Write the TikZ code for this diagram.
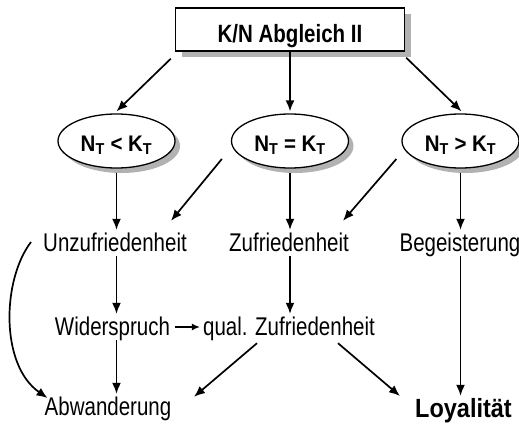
\documentclass[tikz,border=0pt]{standalone}
\usepackage{fontspec}
\setmainfont{Liberation Sans}
\usetikzlibrary{arrows.meta,shadows,calc,shapes.geometric}
\newcommand{\tallText}[1]{\scalebox{1}[1.25]{#1}}
\begin{document}
\begin{tikzpicture}[x=1pt,y=-1pt,
  every node/.style={font=\fontsize{20.5}{24}\selectfont},
  lbl/.style={anchor=base, inner xsep=0pt, inner ysep=2pt, text height=19pt, text depth=3pt},
  arr/.style={line width=1.7pt, -{Latex[length=11pt,width=9pt]}},
  topbox/.style={draw, line width=1.3pt, fill=white, minimum width=229pt, minimum height=43pt, inner sep=0pt,
    text height=27pt, text depth=0pt,
    font=\bfseries\fontsize{20.5}{24}\selectfont,
    drop shadow={shadow xshift=6pt, shadow yshift=-6pt, fill=black!30, opacity=1}},
  oval/.style={ellipse, draw, line width=1.3pt, fill=white, minimum width=117pt, minimum height=54pt, inner sep=0pt,
    text height=20pt, text depth=0pt,
    font=\bfseries\fontsize{20.5}{24}\selectfont,
    drop shadow={shadow xshift=5pt, shadow yshift=-5pt, fill=black!30, opacity=1}}
]
\useasboundingbox (0,0) rectangle (519,425);

\node[topbox] (box) at (290,29.5) {\scalebox{1}[1.22]{K/N Abgleich II}};
\node[oval] (eL) at (116.5,141) {\scalebox{1}[1.1]{N\textsubscript{T} < K\textsubscript{T}}};
\node[oval] (eM) at (290,141) {\scalebox{1}[1.1]{N\textsubscript{T} = K\textsubscript{T}}};
\node[oval] (eR) at (460.5,141) {\scalebox{1}[1.1]{N\textsubscript{T} > K\textsubscript{T}}};

\node[lbl] (unz) at (115,251) {\tallText{Unzufriedenheit}};
\node[lbl] (zuf) at (289,251) {\tallText{Zufriedenheit}};
\node[lbl] (beg) at (460,251) {\tallText{Begeisterung}};

\node[lbl] (wid) at (112.5,335) {\tallText{Widerspruch}};
\node[lbl] (qual) at (289,335) {\tallText{qual. Zufriedenheit}};

\node[lbl] (abw) at (108,415) {\tallText{Abwanderung}};
\node[lbl, font=\bfseries\fontsize{23.5}{28}\selectfont] (loy) at (463.5,417) {\scalebox{1}[1.12]{Loyalität}};

% from top box
\draw[arr] ($(box.south west)+(-4,7)$) -- ($(eL.north)+(0,-2)$);
\draw[arr] (box.south) -- ($(eM.north)+(0,-2)$);
\draw[arr] ($(box.south east)+(1,6)$) -- ($(eR.north)+(1,-2)$);

% from ellipses
\draw[arr, shorten <=4pt] (eL.south) -- (eL.south |- unz.north);
\draw[arr, shorten <=4pt] (eM.south) -- (eM.south |- zuf.north);
\draw[arr, shorten <=4pt] (eR.south) -- (eR.south |- beg.north);
\draw[arr] ($(eM.west)+(-9,18)$) -- ($(unz.north)+(56,-9)$);
\draw[arr] ($(eR.west)+(-5,18)$) -- ($(zuf.north)+(54,-9)$);

% lower part
\draw[arr] (eL.south |- unz.south) -- (eL.south |- wid.north);
\draw[arr] (eL.south |- wid.south) -- (eL.south |- abw.north);
\draw[arr] (eM.south |- zuf.south) -- (eM.south |- qual.north);
\draw[arr] (eR.south |- beg.south) -- (eR.south |- loy.north);
\draw[line width=1.7pt, -{Latex[length=8pt,width=7pt]}] ($(wid.base east)+(5,-8)$) -- ($(qual.base west)+(-3,-8)$);
\draw[arr] ($(qual.south)+(-32,3)$) -- ($(abw.north)+(86,3)$);
\draw[arr] ($(qual.south)+(49,3)$) -- ($(loy.base west)+(-15,-21)$);
\draw[arr] ($(unz.base west)+(-12,-9)$) .. controls (2,280) and (0,365) .. ($(abw.base west)+(3,-17)$);
\end{tikzpicture}
\end{document}
